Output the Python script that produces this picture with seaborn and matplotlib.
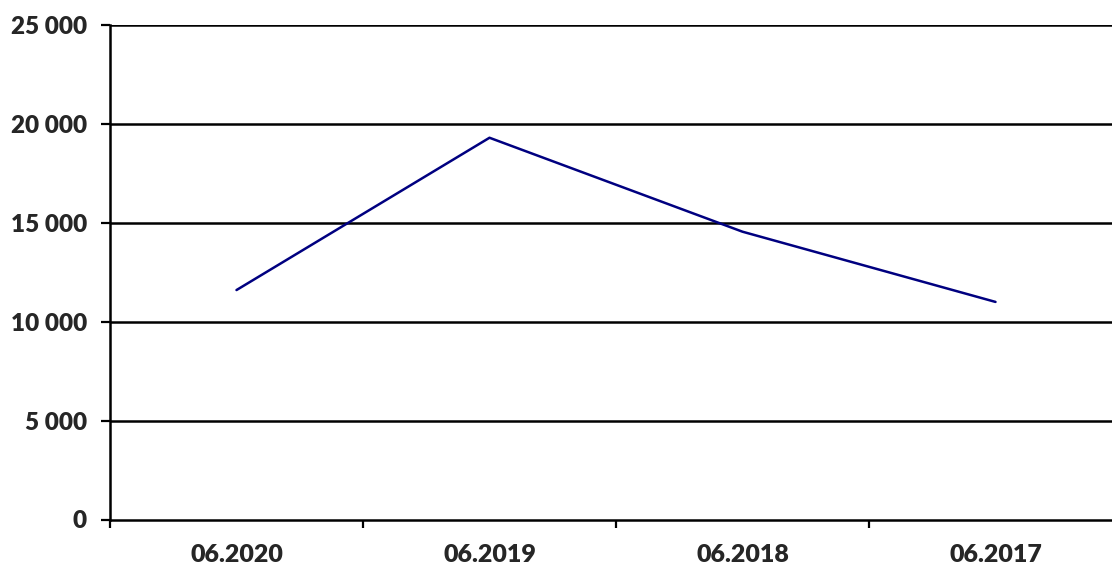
import matplotlib
matplotlib.use("Agg")
import matplotlib.pyplot as plt
import matplotlib.ticker as mticker
import seaborn as sns
import pandas as pd

# Données
periodes = ["06.2020", "06.2019", "06.2018", "06.2017"]
valeurs = [11600, 19300, 14550, 11000]
graduations_y = [0, 5000, 10000, 15000, 20000, 25000]

df = pd.DataFrame({"periode": periodes, "valeur": valeurs})

sns.set_style("white")
plt.rcParams["font.family"] = ["Lato", "DejaVu Sans"]
plt.rcParams["font.weight"] = "heavy"

fig = plt.figure(figsize=(11.12, 5.74), dpi=100)
ax = fig.add_axes([110 / 1112, 1 - 519.5 / 574, 1012 / 1112, 494.5 / 574])

x_pos = list(range(len(periodes)))
sns.lineplot(x=x_pos, y=df["valeur"], ax=ax, color="#000080",
             linewidth=1.8, sort=False)

ax.set_ylim(0, 25000)
ax.set_xlim(-0.5, len(periodes) - 0.5)

# quadrillage horizontal noir
for g in graduations_y[1:]:
    ax.axhline(g, color="black", linewidth=1.8, zorder=0)

ax.set_yticks(graduations_y)
ax.yaxis.set_major_formatter(
    mticker.FuncFormatter(lambda v, p: f"{int(v):,}".replace(",", " ")))

ax.set_xticks([i - 0.5 for i in range(len(periodes) + 1)])
ax.set_xticklabels([])
ax.set_xticks(x_pos, minor=True)
ax.set_xticklabels(periodes, minor=True, fontweight="heavy")

ax.tick_params(axis="y", which="major", left=True, direction="out",
               length=6.5, width=1.6, color="black", pad=10, labelsize=17.5)
ax.tick_params(axis="x", which="major", bottom=True, direction="out",
               length=6, width=1.6, color="black")
ax.tick_params(axis="x", which="minor", bottom=True, length=0, pad=18,
               labelsize=18)

for s in ["top", "right"]:
    ax.spines[s].set_visible(False)
for s in ["left", "bottom"]:
    ax.spines[s].set_color("black")
    ax.spines[s].set_linewidth(1.8)

ax.set_xlabel("")
ax.set_ylabel("")

fig.savefig("out.png", dpi=100)
